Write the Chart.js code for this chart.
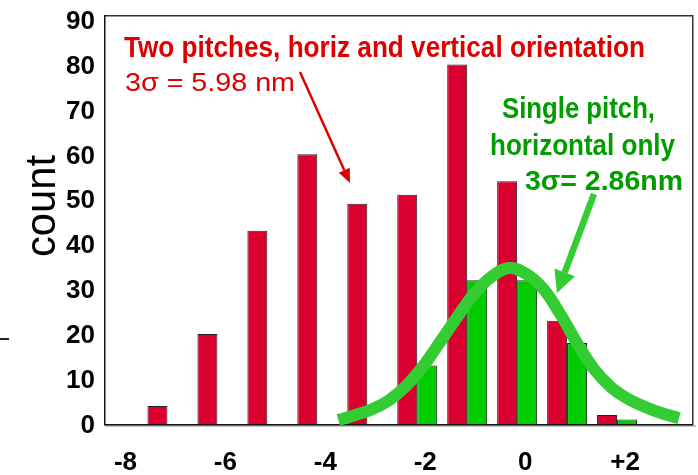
<!DOCTYPE html>
<html>
<head>
<meta charset="utf-8">
<script src="https://cdn.jsdelivr.net/npm/chart.js@4.4.1/dist/chart.umd.min.js"></script>
<style>
  html, body { margin: 0; padding: 0; background: #ffffff; }
  #wrap { width: 698px; height: 475px; position: relative; }
</style>
</head>
<body>
<div id="wrap"><canvas id="chart" width="698" height="475"></canvas></div>
<script>
// Placement-error bins (nm) and counts per bin
const bins = [-8, -7, -6, -5, -4, -3, -2, -1, 0, 1, 2, 3];
const twoPitchCounts = [0, 4, 20, 43, 60, 49, 51, 80, 54, 23, 2, 0];
const singlePitchCounts = [0, 0, 0, 0, 0, 0, 13, 32, 32, 18, 1, 0];

// Hand-drawn envelope over the single-pitch histogram
const envelopeX = [-3.58, -3.24, -2.90, -2.56, -2.22, -1.88, -1.54, -1.20, -0.86, -0.52, -0.16,
                   0.18, 0.52, 0.86, 1.20, 1.54, 1.88, 2.22, 2.56, 2.90, 3.24];
const envelopeY = [0.9, 2.0, 3.3, 5.3, 8.5, 12.9, 18.3, 23.8, 29.0, 32.7, 34.7,
                   33.4, 30.1, 24.5, 18.0, 12.2, 8.2, 5.6, 3.8, 2.4, 1.3];

// Axis ticks
const xTickValues = [-8, -6, -4, -2, 0, 2];
const yTickValues = [0, 10, 20, 30, 40, 50, 60, 70, 80, 90];

const RED = '#d9002f';
const GREEN = '#00cc00';
const CURVE_GREEN = '#33cc33';
const TEXT_RED = '#dd0000';
const TEXT_GREEN = '#009c00';

function pairs(xs, ys) { return xs.map((x, i) => ({ x: x, y: ys[i] })); }

// Draw a text line squeezed/stretched to a given width
function fitText(ctx, text, x, baseline, width, font, color) {
  ctx.save();
  ctx.font = font;
  const w = ctx.measureText(text).width;
  ctx.translate(x, baseline);
  ctx.scale(width / w, 1);
  ctx.fillStyle = color;
  ctx.textAlign = 'left';
  ctx.textBaseline = 'alphabetic';
  ctx.fillText(text, 0, 0);
  ctx.restore();
}

function arrow(ctx, x1, y1, x2, y2, shaft, headLen, headHalf, color) {
  const ang = Math.atan2(y2 - y1, x2 - x1);
  const bx = x2 - headLen * Math.cos(ang);
  const by = y2 - headLen * Math.sin(ang);
  ctx.save();
  ctx.strokeStyle = color;
  ctx.fillStyle = color;
  ctx.lineWidth = shaft;
  ctx.lineCap = 'butt';
  ctx.beginPath();
  ctx.moveTo(x1, y1);
  ctx.lineTo(bx, by);
  ctx.stroke();
  ctx.beginPath();
  ctx.moveTo(x2, y2);
  ctx.lineTo(bx + headHalf * Math.sin(ang), by - headHalf * Math.cos(ang));
  ctx.lineTo(bx - headHalf * Math.sin(ang), by + headHalf * Math.cos(ang));
  ctx.closePath();
  ctx.fill();
  ctx.restore();
}

// Plot frame: dark box with a soft grey shadow under the baseline
const framePlugin = {
  id: 'frame',
  beforeDatasetsDraw(chart) {
    const { ctx, chartArea: a } = chart;
    ctx.save();
    ctx.fillStyle = '#c4c4c4';
    ctx.fillRect(a.left, a.bottom + 1, a.right - a.left + 3, 2);
    ctx.fillStyle = '#333333';
    ctx.fillRect(a.left, a.top, a.right - a.left, 1.5);
    ctx.fillRect(a.right - 1, a.top, 1.5, a.bottom - a.top + 1);
    ctx.fillStyle = '#111111';
    ctx.fillRect(a.left - 1, a.top, 1.5, a.bottom - a.top + 1);
    ctx.fillRect(a.left - 1, a.bottom, a.right - a.left + 1, 1.5);
    ctx.restore();
  }
};

// Axis title and callouts
const notesPlugin = {
  id: 'notes',
  afterDraw(chart) {
    const ctx = chart.ctx;

    // y-axis title
    ctx.save();
    ctx.translate(55, 206);
    ctx.rotate(-Math.PI / 2);
    ctx.font = '42px "Liberation Sans", Arial, sans-serif';
    const cw = ctx.measureText('count').width;
    ctx.scale(102 / cw, 1);
    ctx.fillStyle = '#000000';
    ctx.textAlign = 'center';
    ctx.textBaseline = 'alphabetic';
    ctx.fillText('count', 0, 0);
    ctx.restore();

    // small dash at the left margin
    ctx.save();
    ctx.fillStyle = '#222222';
    ctx.fillRect(0, 338, 9, 2);
    ctx.restore();

    // two-pitch callout
    fitText(ctx, 'Two pitches, horiz and vertical orientation', 124, 57, 521,
            'bold 30px "Liberation Sans", Arial, sans-serif', TEXT_RED);
    fitText(ctx, '3\u03c3 = 5.98 nm', 125, 91, 170,
            '26px "Liberation Sans", Arial, sans-serif', TEXT_RED);
    arrow(ctx, 300, 72, 350, 183, 2.5, 14, 6, '#e00000');

    // single-pitch callout
    fitText(ctx, 'Single pitch,', 502, 118, 153,
            'bold 30px "Liberation Sans", Arial, sans-serif', TEXT_GREEN);
    fitText(ctx, 'horizontal only', 490, 155, 185,
            'bold 30px "Liberation Sans", Arial, sans-serif', TEXT_GREEN);
    fitText(ctx, '3\u03c3= 2.86nm', 525, 190, 158,
            'bold 28px "Liberation Sans", Arial, sans-serif', TEXT_GREEN);
    arrow(ctx, 594, 194, 557, 293, 6.5, 22, 11, CURVE_GREEN);
  }
};

const tickFont = { family: '"Liberation Sans", Arial, sans-serif', size: 26, weight: 'bold' };

new Chart(document.getElementById('chart'), {
  type: 'bar',
  data: {
    datasets: [
      {
        label: 'Two pitches, horiz and vertical orientation',
        data: pairs(bins, twoPitchCounts),
        backgroundColor: RED,
        borderColor: '#222222',
        borderWidth: 1,
        order: 1
      },
      {
        label: 'Single pitch, horizontal only',
        data: pairs(bins, singlePitchCounts),
        backgroundColor: GREEN,
        borderColor: '#222222',
        borderWidth: 1,
        order: 1
      },
      {
        type: 'line',
        label: 'Single pitch envelope',
        data: pairs(envelopeX, envelopeY),
        borderColor: CURVE_GREEN,
        borderWidth: 12,
        borderCapStyle: 'butt',
        tension: 0.4,
        pointRadius: 0,
        fill: false,
        clip: 8,
        order: 0
      }
    ]
  },
  options: {
    responsive: false,
    animation: false,
    devicePixelRatio: 1,
    layout: { padding: { top: 15, right: 5, left: 0, bottom: 0 } },
    plugins: {
      legend: { display: false },
      tooltip: { enabled: false }
    },
    datasets: {
      bar: { categoryPercentage: 0.8, barPercentage: 1.0, borderSkipped: 'start' }
    },
    scales: {
      x: {
        type: 'linear',
        min: -8.25,
        max: 3.52,
        offset: false,
        grid: { display: false, drawTicks: false },
        border: { display: false },
        afterBuildTicks(scale) { scale.ticks = xTickValues.map(v => ({ value: v })); },
        afterFit(scale) {
          scale.height = 51;
          scale.paddingLeft = 0;
          scale.paddingRight = 0;
        },
        ticks: {
          font: tickFont,
          color: '#000000',
          padding: 23,
          labelOffset: 8,
          autoSkip: false,
          maxRotation: 0,
          callback: v => (v > 0 ? '+' + v : String(v))
        }
      },
      y: {
        type: 'linear',
        min: 0,
        max: 91,
        grid: { display: false, drawTicks: false },
        border: { display: false },
        afterBuildTicks(scale) { scale.ticks = yTickValues.map(v => ({ value: v })); },
        afterFit(scale) {
          scale.width = 105;
          scale.paddingTop = 0;
          scale.paddingBottom = 0;
        },
        ticks: {
          font: tickFont,
          color: '#000000',
          padding: 10,
          labelOffset: 2,
          autoSkip: false
        }
      }
    }
  },
  plugins: [framePlugin, notesPlugin]
});
</script>
</body>
</html>
